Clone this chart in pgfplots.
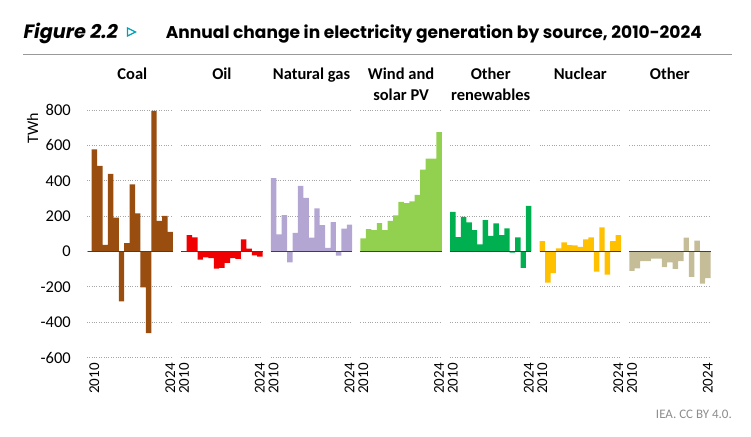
\documentclass[border=0pt]{standalone}
\usepackage{fontspec}
\setmainfont{Carlito}
\newfontfamily\titlefont{Poppins}
\usepackage{pgfplots}
\pgfplotsset{compat=1.18}
\definecolor{coalc}{RGB}{153,77,15}
\definecolor{oilc}{RGB}{240,0,0}
\definecolor{gasc}{RGB}{180,166,210}
\definecolor{windc}{RGB}{146,208,80}
\definecolor{renc}{RGB}{0,176,80}
\definecolor{nucc}{RGB}{255,192,0}
\definecolor{othc}{RGB}{196,189,151}
\definecolor{tealc}{RGB}{0,160,180}
\pgfplotsset{
  panel/.style={
    x=5.42pt, y=0.1768pt, anchor=origin,
    xmin=-0.5, xmax=14.5, ymin=-600, ymax=800,
    axis line style={draw=none},
    major tick length=0pt,
    ytick={-600,-400,...,800},
    yticklabels={},
    ymajorgrids,
    grid style={gray!70, line width=0.8pt, dash pattern=on 0.8pt off 1.6pt},
    xtick={0,14}, xticklabels={2010,2024},
    xticklabel style={yshift=-5.5pt, rotate=90, anchor=east, inner sep=0pt, font=\fontsize{15}{17}\selectfont},
    clip=false,
  },
  bars/.style={ybar, bar width=1, bar shift=0pt, fill=#1, draw=none},
  zline/.style={black!75, line width=1.2pt},
}
\begin{document}
\begin{tikzpicture}
\useasboundingbox (0,0) rectangle (751pt,436pt);
% header
\node[anchor=base west, inner sep=0pt, font=\titlefont\bfseries\itshape\fontsize{19.3}{22}\selectfont] at (23.3pt,397.7pt) {Figure 2.2};
\draw[tealc, line width=1.3pt, line join=miter] (127.5pt,408pt) -- (135.5pt,404pt) -- (127.5pt,400pt) -- cycle;
\node[anchor=base west, inner sep=0pt, font=\titlefont\bfseries\fontsize{17.05}{20}\selectfont] at (165.7pt,397.7pt) {Annual change in electricity generation by source, 2010-2024};
\draw[gray!80, line width=1pt] (23pt,381pt) -- (732pt,381pt);
% panel titles
\begin{scope}[every node/.style={anchor=base, inner sep=0pt, font=\bfseries\fontsize{16.5}{20}\selectfont}]
\node at (132.3pt,356.7pt) {Coal};
\node at (221.9pt,356.7pt) {Oil};
\node at (311.5pt,356.7pt) {Natural gas};
\node at (401.1pt,356.7pt) {Wind and};
\node at (401.1pt,335.5pt) {solar PV};
\node at (490.7pt,356.7pt) {Other};
\node at (490.7pt,335.5pt) {renewables};
\node at (580.3pt,356.7pt) {Nuclear};
\node at (669.9pt,356.7pt) {Other};
\end{scope}
\node[rotate=90, font=\fontsize{16}{18}\selectfont] at (32.5pt,308pt) {TWh};
\node[anchor=base east, inner sep=0pt, text=gray!90, font=\fontsize{13}{15}\selectfont] at (732pt,18pt) {IEA. CC BY 4.0.};
% Coal
\begin{axis}[panel, at={(94.4pt,184.5pt)}, xmin=-1.4,
  yticklabels={-600,-400,-200,0,200,400,600,800},
  yticklabel style={anchor=east, inner sep=0pt, xshift=-15.8pt, font=\fontsize{16.5}{19}\selectfont}]
\addplot[bars=coalc] coordinates {(0,578) (1,484) (2,38) (3,439) (4,192) (5,-282) (6,47) (7,380) (8,216) (9,-203) (10,-461) (11,796) (12,173) (13,201) (14,111)};
\addplot[zline] coordinates {(-1.1,0) (14.5,0)};
\end{axis}
% Oil
\begin{axis}[panel, at={(184.0pt,184.5pt)}]
\addplot[bars=oilc] coordinates {(0,0) (1,92) (2,80) (3,-46) (4,-33) (5,-38) (6,-97) (7,-92) (8,-64) (9,-38) (10,-42) (11,69) (12,16) (13,-22) (14,-29)};
\addplot[zline] coordinates {(-0.5,0) (14.5,0)};
\end{axis}
% Natural gas
\begin{axis}[panel, at={(273.6pt,184.5pt)}]
\addplot[bars=gasc] coordinates {(0,415) (1,97) (2,206) (3,-61) (4,105) (5,371) (6,303) (7,78) (8,244) (9,149) (10,21) (11,166) (12,-23) (13,130) (14,152)};
\addplot[zline] coordinates {(-0.5,0) (14.5,0)};
\end{axis}
% Wind and solar PV
\begin{axis}[panel, at={(363.2pt,184.5pt)}]
\addplot[bars=windc] coordinates {(0,74) (1,127) (2,121) (3,161) (4,121) (5,173) (6,205) (7,281) (8,273) (9,284) (10,320) (11,463) (12,525) (13,525) (14,675)};
\addplot[zline] coordinates {(-0.5,0) (14.5,0)};
\end{axis}
% Other renewables
\begin{axis}[panel, at={(452.8pt,184.5pt)}]
\addplot[bars=renc] coordinates {(0,224) (1,82) (2,196) (3,165) (4,121) (5,40) (6,177) (7,89) (8,159) (9,93) (10,131) (11,-6) (12,80) (13,-93) (14,258)};
\addplot[zline] coordinates {(-0.5,0) (14.5,0)};
\end{axis}
% Nuclear
\begin{axis}[panel, at={(542.4pt,184.5pt)}]
\addplot[bars=nucc] coordinates {(0,58) (1,-176) (2,-123) (3,17) (4,52) (5,36) (6,34) (7,26) (8,69) (9,80) (10,-114) (11,137) (12,-131) (13,58) (14,92)};
\addplot[zline] coordinates {(-0.5,0) (14.5,0)};
\end{axis}
% Other
\begin{axis}[panel, at={(632.0pt,184.5pt)}]
\addplot[bars=othc] coordinates {(0,-110) (1,-96) (2,-55) (3,-55) (4,-40) (5,-40) (6,-88) (7,-62) (8,-98) (9,-55) (10,79) (11,-144) (12,62) (13,-182) (14,-150)};
\addplot[zline] coordinates {(-0.5,0) (14.5,0)};
\end{axis}
\end{tikzpicture}
\end{document}
